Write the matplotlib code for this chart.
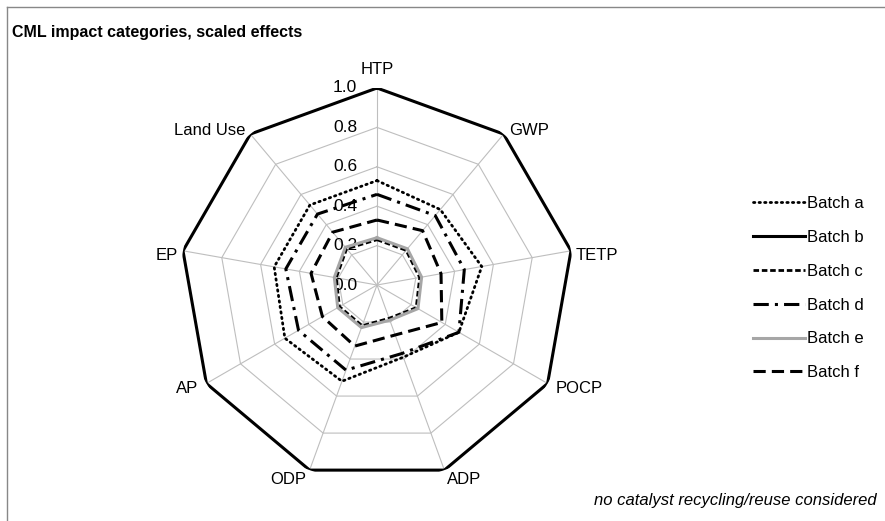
import numpy as np
import matplotlib
matplotlib.use('Agg')
import matplotlib.pyplot as plt
from matplotlib.lines import Line2D

# categories clockwise from top
categories = ['HTP', 'GWP', 'TETP', 'POCP', 'ADP', 'ODP', 'AP', 'EP', 'Land Use']
batch_a = [0.53, 0.50, 0.54, 0.48, 0.39, 0.52, 0.54, 0.53, 0.53]
batch_b = [1.0, 1.0, 1.0, 1.0, 1.0, 1.0, 1.0, 1.0, 1.0]
batch_c = [0.23, 0.23, 0.22, 0.23, 0.18, 0.22, 0.22, 0.21, 0.24]
batch_d = [0.46, 0.46, 0.45, 0.48, 0.37, 0.46, 0.46, 0.47, 0.47]
batch_e = [0.24, 0.24, 0.23, 0.24, 0.19, 0.23, 0.23, 0.22, 0.25]
batch_f = [0.33, 0.36, 0.33, 0.38, 0.27, 0.33, 0.32, 0.34, 0.35]
ring_ticks = [0.0, 0.2, 0.4, 0.6, 0.8, 1.0]
note = 'no catalyst recycling/reuse considered'

plt.rcParams['font.family'] = ['Liberation Sans', 'DejaVu Sans']

fig = plt.figure(figsize=(8.85, 5.21), dpi=100)
cx, cy, R = 377, 285, 197
ax = fig.add_axes([(cx - R) / 885, (521 - cy - R) / 521, 2 * R / 885, 2 * R / 521], polar=True)
ax.set_theta_zero_location('N')
ax.set_theta_direction(-1)
ax.set_ylim(0, 1)
ax.set_xticks([])
ax.set_yticks([])
ax.grid(False)
ax.spines['polar'].set_visible(False)
ax.patch.set_alpha(0)

n = len(categories)
ang = np.arange(n) * 2 * np.pi / n
ang_c = np.append(ang, ang[0])

def closed(v):
    return np.append(v, v[0])

# polygon grid
gc = '#BEBEBE'
for t in ring_ticks[1:]:
    ax.plot(ang_c, [t] * (n + 1), color=gc, lw=0.8, zorder=1)
for a in ang:
    ax.plot([a, a], [0, 1], color=gc, lw=0.8, zorder=1)

ax.plot(ang_c, closed(batch_a), color='black', lw=2.0, ls=(0, (0.5, 1.5)), dash_capstyle='round', label='Batch a', zorder=3)
ax.plot(ang_c, closed(batch_b), color='black', lw=2.2, label='Batch b', zorder=3)
ax.plot(ang_c, closed(batch_c), color='black', lw=2.0, ls=(0, (2, 1)), label='Batch c', zorder=3)
ax.plot(ang_c, closed(batch_d), color='black', lw=2.2, ls=(0, (5, 2, 1, 2)), label='Batch d', zorder=3)
ax.plot(ang_c, closed(batch_e), color='#A6A6A6', lw=2.2, label='Batch e', zorder=3)
ax.plot(ang_c, closed(batch_f), color='black', lw=2.2, ls=(0, (4, 2)), label='Batch f', zorder=3)

# category labels (offsets in px)
offs = [(0, 19, 'center'), (5, 4, 'left'), (5, -5, 'left'), (8, -5, 'left'), (3, -9, 'left'),
        (-3, -9, 'right'), (-8, -5, 'right'), (-5, -5, 'right'), (-5, 4, 'right')]
for a, lab, (dx, dy, ha) in zip(ang, categories, offs):
    ax.annotate(lab, xy=(a, 1.0), xytext=(dx * 0.72, dy * 0.72), textcoords='offset points',
                ha=ha, va='center', fontsize=12, annotation_clip=False)

for t in ring_ticks:
    ax.annotate(f'{t:.1f}', xy=(0, t), xytext=(-20 * 0.72, 0), textcoords='offset points',
                ha='right', va='center', fontsize=12.5, zorder=2)

fig.text(12 / 885, 1 - 33 / 521, 'CML impact categories, scaled effects', fontsize=11.5,
         fontweight='bold', ha='left', va='center')
fig.text(877 / 885, 1 - 500 / 521, note, fontsize=12, style='italic', ha='right', va='center')

fig.legend(loc='upper left', bbox_to_anchor=(753 / 885, 1 - 196 / 521), frameon=False,
           fontsize=12, handlelength=3.1, handletextpad=0.15, labelspacing=1.13,
           borderpad=0, borderaxespad=0)

# chart border (left and top visible)
fig.add_artist(Line2D([6.5 / 885, 6.5 / 885], [0, 1 - 6.5 / 521], color='#888888', lw=1))
fig.add_artist(Line2D([6.5 / 885, 1], [1 - 6.5 / 521, 1 - 6.5 / 521], color='#888888', lw=1))

fig.savefig('out.png', dpi=100)
